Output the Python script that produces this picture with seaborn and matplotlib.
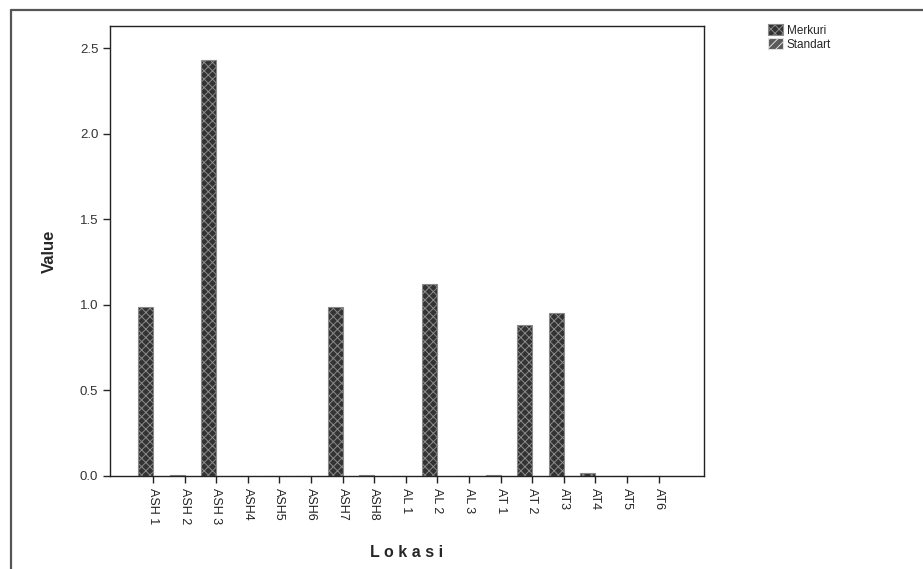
import matplotlib
matplotlib.use("Agg")
import matplotlib.pyplot as plt
import seaborn as sns
import pandas as pd

# Datos
lokasi = ["ASH 1", "ASH 2", "ASH 3", "ASH4", "ASH5", "ASH6", "ASH7", "ASH8",
          "AL 1", "AL 2", "AL 3", "AT 1", "AT 2", "AT3", "AT4", "AT5", "AT6"]
merkuri = [0.99, 0.004, 2.43, 0.0, 0.0, 0.0, 0.99, 0.004,
           0.0, 1.12, 0.0, 0.003, 0.88, 0.95, 0.02, 0.002, 0.002]
standart = [0.001] * len(lokasi)
series = ["Merkuri", "Standart"]
yticks = [0.0, 0.5, 1.0, 1.5, 2.0, 2.5]

df = pd.DataFrame({
    "Lokasi": lokasi * 2,
    "Value": merkuri + standart,
    "Seri": [series[0]] * len(lokasi) + [series[1]] * len(lokasi),
})

sns.set_style("white")
plt.rcParams["font.family"] = ["Liberation Sans", "DejaVu Sans"]
plt.rcParams["hatch.linewidth"] = 0.7

fig = plt.figure(figsize=(9.23, 5.69), dpi=100)
ax = fig.add_axes([110 / 923, 1 - 476 / 569, 594 / 923, 450 / 569])

sns.barplot(data=df, x="Lokasi", y="Value", hue="Seri", width=0.95,
            palette=["#3c3c3c", "#5a5a5a"], legend=False, ax=ax)

# tramas estilo SPSS
estilos = [("#333333", "#8a8a8a", "xxxx"), ("#5a5a5a", "#e0e0e0", "////")]
for cont, (fc, ec, hatch) in zip(ax.containers, estilos):
    for p in cont.patches:
        p.set_facecolor(fc)
        p.set_edgecolor(ec)
        p.set_hatch(hatch)
        p.set_linewidth(0.8)

ax.set_xlim(-1.36, 17.44)
ax.set_ylim(0, 2.63)
ax.set_yticks(yticks)
ax.set_yticklabels([f"{v:.1f}" for v in yticks], fontsize=9.5, color="#333333")
ax.tick_params(axis="x", labelrotation=-90, labelsize=9, length=5, width=1,
               direction="out", bottom=True, colors="#222222")
ax.tick_params(axis="y", length=5, width=1, direction="out", left=True)
for lab in ax.get_xticklabels():
    lab.set_verticalalignment("top")

for s in ax.spines.values():
    s.set_color("#222222")
    s.set_linewidth(1.0)

ax.set_ylabel("Value", fontsize=12, fontweight="bold", fontstretch="condensed")
ax.yaxis.set_label_coords(-0.089, 0.5)
ax.set_xlabel("L o k a s i", fontsize=11.5, fontweight="bold")
ax.xaxis.set_label_coords(0.50, -0.153)

# marco exterior
fig.add_artist(plt.Line2D([11 / 923, 1.0], [1 - 10 / 569, 1 - 10 / 569],
                          color="#555555", lw=1.6, transform=fig.transFigure))
fig.add_artist(plt.Line2D([11 / 923, 11 / 923], [0.0, 1 - 10 / 569],
                          color="#555555", lw=1.6, transform=fig.transFigure))

fig.legend(handles=ax.containers, labels=series, loc="upper left",
           bbox_to_anchor=(768 / 923, 1 - 24 / 569), frameon=False,
           fontsize=8.5, handlelength=1.3, handleheight=1.1, labelspacing=0.1,
           handletextpad=0.3, borderpad=0, borderaxespad=0)

fig.savefig("out.png", dpi=100)
